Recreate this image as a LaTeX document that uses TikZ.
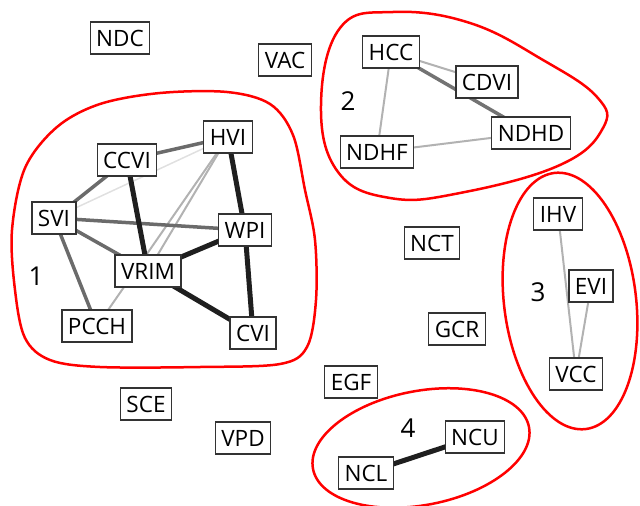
\documentclass[tikz,border=0pt]{standalone}
\usepackage{fontspec}
\setmainfont{Open Sans}
\begin{document}
\begin{tikzpicture}[x=1pt,y=-1pt,
 box/.style={draw=black!80,line width=1.2pt,fill=white,inner xsep=6pt,inner ysep=0pt,minimum height=32pt,font=\fontsize{22.5}{22.5}\selectfont},
 lab/.style={font=\fontsize{26}{26}\selectfont},
 strong/.style={draw=black!88,line width=5pt},
 mid/.style={draw=black!58,line width=3.5pt},
 light/.style={draw=black!30,line width=2pt},
 faint/.style={draw=black!12,line width=1.5pt},
 hull/.style={draw=red,line width=2.5pt}]
\useasboundingbox (0,0) rectangle (640,506);
% hulls
\draw[hull] plot[smooth cycle,tension=0.55] coordinates {(160,93) (227,92) (270,104) (293,135) (305,190) (315,240) (316,300) (307,347) (280,364) (200,367) (100,367) (50,360) (25,338) (15,290) (12,230) (25,168) (57,127) (100,104)};
\draw[hull] plot[smooth cycle,tension=0.7] coordinates {(393,12) (470,23) (543,60) (597,97) (603,128) (560,165) (460,193) (390,198) (338,172) (321,105) (340,28)};
\draw[hull, rotate around={7:(570,301)}] (570,301) ellipse [x radius=66pt, y radius=129pt];
\draw[hull, rotate around={11:(421,448)}] (421,448) ellipse [x radius=110pt, y radius=57pt];
% node positions
\coordinate (pHCC) at (391,52);
\coordinate (pCDVI) at (487,82);
\coordinate (pNDHD) at (531,133);
\coordinate (pNDHF) at (377,152);
\coordinate (pHVI) at (228,137);
\coordinate (pCCVI) at (127,160);
\coordinate (pSVI) at (54,218);
\coordinate (pWPI) at (245,230);
\coordinate (pVRIM) at (148,271);
\coordinate (pPCCH) at (97,326);
\coordinate (pCVI) at (253,333);
\coordinate (pIHV) at (558,214);
\coordinate (pEVI) at (591,286);
\coordinate (pVCC) at (576,374);
\coordinate (pNCU) at (475,437);
\coordinate (pNCL) at (366,473);
% edges (drawn under the boxes)
\draw[faint] (pSVI) -- (pHVI);
\draw[light] (pHVI) -- (pVRIM);
\draw[light] (pHVI) -- (pPCCH);
\draw[mid] (pCCVI) -- (pHVI);
\draw[mid] (pSVI) -- (pCCVI);
\draw[mid] (pSVI) -- (pWPI);
\draw[mid] (pSVI) -- (pVRIM);
\draw[mid] (pSVI) -- (pPCCH);
\draw[strong] (pCCVI) -- (pVRIM);
\draw[strong] (pHVI) -- (pWPI);
\draw[strong] (pWPI) -- (pVRIM);
\draw[strong] (pWPI) -- (pCVI);
\draw[strong] (pVRIM) -- (pCVI);
\draw[light] (pHCC) -- (pCDVI);
\draw[mid,draw=black!55] (pHCC) -- (pNDHD);
\draw[light] (pHCC) -- (pNDHF);
\draw[light] (pNDHF) -- (pNDHD);
\draw[light] (pIHV) -- (pVCC);
\draw[light] (pEVI) -- (pVCC);
\draw[strong] (pNCL) -- (pNCU);
% nodes
\node[box] (NDC) at (120,38) {NDC};
\node[box] (VAC) at (285,60) {VAC};
\node[box] (HCC) at (pHCC) {HCC};
\node[box] (CDVI) at (pCDVI) {CDVI};
\node[box] (NDHD) at (pNDHD) {NDHD};
\node[box] (NDHF) at (pNDHF) {NDHF};
\node[box] (HVI) at (pHVI) {HVI};
\node[box] (CCVI) at (pCCVI) {CCVI};
\node[box] (SVI) at (pSVI) {SVI};
\node[box] (WPI) at (pWPI) {WPI};
\node[box] (VRIM) at (pVRIM) {VRIM};
\node[box] (PCCH) at (pPCCH) {PCCH};
\node[box] (CVI) at (pCVI) {CVI};
\node[box] (IHV) at (pIHV) {IHV};
\node[box] (EVI) at (pEVI) {EVI};
\node[box] (VCC) at (pVCC) {VCC};
\node[box] (NCT) at (432,243) {NCT};
\node[box] (GCR) at (457,329) {GCR};
\node[box] (EGF) at (351,382) {EGF};
\node[box] (NCU) at (pNCU) {NCU};
\node[box] (NCL) at (pNCL) {NCL};
\node[box] (SCE) at (146,404) {SCE};
\node[box] (VPD) at (243,438) {VPD};
\node[lab] (L1) at (36,276) {1};
\node[lab] (L2) at (348,101) {2};
\node[lab] (L3) at (538,292) {3};
\node[lab] (L4) at (408,428) {4};
\end{tikzpicture}
\end{document}
